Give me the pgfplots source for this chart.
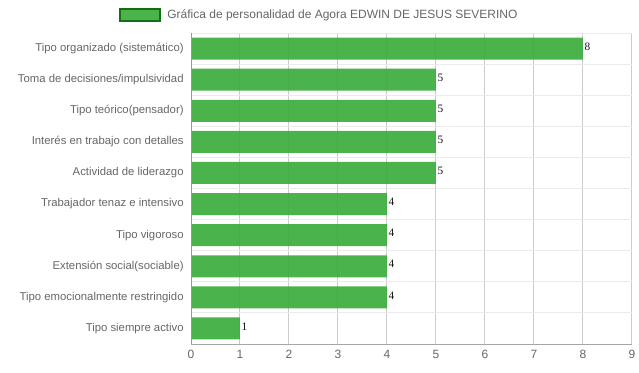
\documentclass[border=0pt]{standalone}
\usepackage{pgfplots}
\pgfplotsset{compat=1.18}
\usepackage{fontspec}
\setmainfont{Liberation Sans}
\newfontfamily\seriffont{Liberation Serif}
\definecolor{barfill}{RGB}{60,172,60}
\definecolor{barline}{RGB}{20,110,20}
\definecolor{txt}{RGB}{102,102,102}
\begin{document}
\begin{tikzpicture}
\useasboundingbox (0pt,0pt) rectangle (479.25pt,279pt);
\begin{axis}[
  at={(143.25pt,21pt)}, anchor=south west,
  scale only axis, width=330.75pt, height=233.25pt,
  xbar, bar width=16.5pt,
  xmin=0, xmax=9, ymin=-0.5, ymax=9.5, y dir=reverse,
  xtick={0,...,9},
  ytick={0,...,9},
  yticklabels={Tipo organizado (sistemático),Toma de decisiones/impulsividad,Tipo teórico(pensador),Interés en trabajo con detalles,Actividad de liderazgo,Trabajador tenaz e intensivo,Tipo vigoroso,Extensión social(sociable),Tipo emocionalmente restringido,Tipo siempre activo},
  minor ytick={-0.5,0.5,...,9.5},
  xmajorgrids, yminorgrids,
  major grid style={draw=black!20, line width=0.75pt},
  minor grid style={draw=black!8, line width=0.75pt},
  axis line style={draw=none},
  major tick length=0pt, minor tick length=0pt,
  ticklabel style={font=\fontsize{8.5}{10}\selectfont, text=txt},
  yticklabel style={xshift=-2pt},
  xticklabel style={yshift=-1pt, font=\fontsize{9}{10}\selectfont},
  /pgf/number format/assume math mode=true,
  nodes near coords,
  nodes near coords style={anchor=west, font=\seriffont\fontsize{8.5}{9}\selectfont, text=black, inner sep=1pt, yshift=1.5pt},
  legend style={at={(0.2913,1.058)}, anchor=center, draw=none, fill=none, font=\fontsize{9}{10}\selectfont, text=txt, column sep=3pt},
  legend image code/.code={\draw[fill=barfill, draw=barline, line width=1.5pt] (0pt,-4.5pt) rectangle (30pt,4.5pt);},
]
\addplot[fill=barfill, fill opacity=0.92, draw=none] coordinates {
  (8,0) (5,1) (5,2) (5,3) (5,4) (4,5) (4,6) (4,7) (4,8) (1,9)
};
\addlegendentry{Gráfica de personalidad de Agora EDWIN DE JESUS SEVERINO}
\draw[black!40, line width=0.75pt] (axis cs:0,-0.5) -- (axis cs:0,9.5);
\draw[black!35, line width=0.75pt] (axis cs:0,9.5) -- (axis cs:9,9.5);
\end{axis}
\end{tikzpicture}
\end{document}
